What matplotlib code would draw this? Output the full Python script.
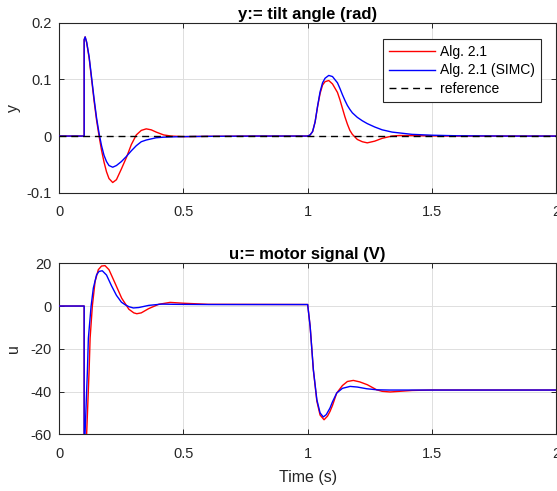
import numpy as np
import matplotlib
matplotlib.use('Agg')
import matplotlib.pyplot as plt

plt.rcParams['font.family'] = ['Liberation Sans', 'DejaVu Sans']
plt.rcParams['axes.unicode_minus'] = False

# ---- tilt angle y (rad) ----
t_y = [0, 0.1, 0.1, 0.104, 0.11, 0.12, 0.13, 0.14, 0.15, 0.16, 0.17, 0.18, 0.19, 0.2,
       0.215, 0.23, 0.25, 0.27, 0.29, 0.31, 0.33, 0.35, 0.37, 0.39, 0.42, 0.45, 0.5,
       0.6, 0.8, 1.0, 1.01, 1.02, 1.03, 1.04, 1.05, 1.06, 1.07, 1.085, 1.1, 1.12,
       1.13, 1.14, 1.15, 1.16, 1.17, 1.18, 1.2, 1.22, 1.24, 1.27, 1.3, 1.34, 1.37,
       1.42, 1.5, 1.6, 1.8, 2.0]
y_alg = [0, 0, 0.17, 0.175, 0.165, 0.138, 0.100, 0.062, 0.028, 0.0, -0.025, -0.046,
         -0.063, -0.075, -0.082, -0.077, -0.058, -0.038, -0.015, 0.002, 0.010, 0.0127,
         0.011, 0.007, 0.002, 0.0, -0.001, -0.0005, 0, 0, 0.002, 0.008, 0.025, 0.052,
         0.075, 0.090, 0.096, 0.098, 0.092, 0.077, 0.064, 0.049, 0.034, 0.021, 0.010,
         0.003, -0.006, -0.010, -0.012, -0.009, -0.004, 0.0, 0.001, 0.0008, 0.0003,
         0, 0, 0]
y_simc = [0, 0, 0.17, 0.175, 0.166, 0.140, 0.103, 0.066, 0.032, 0.005, -0.017, -0.034,
          -0.045, -0.052, -0.055, -0.052, -0.045, -0.036, -0.026, -0.017, -0.010,
          -0.007, -0.005, -0.003, -0.002, -0.0015, -0.001, -0.0005, 0, 0, 0.002,
          0.008, 0.025, 0.053, 0.078, 0.094, 0.102, 0.107, 0.105, 0.094, 0.084,
          0.073, 0.063, 0.054, 0.047, 0.041, 0.033, 0.027, 0.022, 0.016, 0.011,
          0.007, 0.0055, 0.003, 0.0015, 0.0005, 0, 0]
t_ref = [0, 2]
y_ref = [0, 0]

# ---- motor signal u (V) ----
t_u_alg = [0, 0.1, 0.1, 0.11, 0.12, 0.124, 0.133, 0.144, 0.157, 0.17, 0.184, 0.2,
           0.224, 0.251, 0.28, 0.3, 0.312, 0.33, 0.36, 0.4, 0.446, 0.5, 0.6,
           1.0, 1.0, 1.01, 1.023, 1.037, 1.05, 1.066, 1.08, 1.09, 1.1, 1.117, 1.14,
           1.16, 1.184, 1.21, 1.24, 1.278, 1.3, 1.332, 1.37, 1.42, 1.5, 2.0]
u_alg = [0, 0, -75, -60, -30, -15, 0, 11.5, 17, 18.7, 18.9, 17.0, 10.8, 3.7, -1.5,
         -3.2, -3.6, -3.2, -1.2, 0.8, 1.7, 1.3, 0.8, 0.7, 0.7, -9.5, -30,
         -44.5, -51, -53.2, -51.5, -49.3, -46.5, -40.7, -37.2, -35.3, -34.8, -35.5,
         -36.8, -39.2, -39.9, -40.2, -39.9, -39.5, -39.3, -39.3]
t_u_simc = [0, 0.1, 0.1, 0.1035, 0.113, 0.117, 0.128, 0.137, 0.15, 0.16, 0.173, 0.19,
            0.21, 0.23, 0.25, 0.265, 0.28, 0.298, 0.32, 0.36, 0.412, 0.46, 0.6,
            1.0, 1.0, 1.01, 1.023, 1.037, 1.05, 1.063, 1.075, 1.09, 1.1, 1.117, 1.14,
            1.171, 1.2, 1.238, 1.28, 1.33, 1.4, 2.0]
u_simc = [0, 0, -75, -60, -30.6, -15, 0, 8.4, 14.6, 16.2, 16.5, 14.5, 9.5, 5.0, 1.8,
          0.6, -0.3, -0.9, -0.7, 0.3, 0.9, 0.8, 0.7, 0.7, 0.7, -9.5, -29.8, -43.8,
          -50, -51.9, -50.8, -47.7, -44.8, -40.7, -38.5, -37.6, -37.9, -38.7, -39.2,
          -39.3, -39.3, -39.3]

xticks = [0, 0.5, 1, 1.5, 2]
xlabels = ['0', '0.5', '1', '1.5', '2']

fig = plt.figure(figsize=(5.57, 4.91), dpi=100)
ax1 = fig.add_axes([0.1065, 0.6075, 0.8917, 0.3462])
ax2 = fig.add_axes([0.1065, 0.1155, 0.8917, 0.3483])

ax_col = '#262626'
for ax in (ax1, ax2):
    ax.set_xlim(0, 2)
    ax.set_xticks(xticks)
    ax.set_xticklabels(xlabels)
    ax.grid(True, color='#dedede', linewidth=0.7)
    ax.set_axisbelow(True)
    ax.tick_params(direction='in', top=True, right=True, length=3.5, width=0.7,
                   colors=ax_col, labelsize=10.5)
    ax.tick_params(axis='x', pad=9)
    ax.tick_params(axis='y', pad=5.5)
    for s in ax.spines.values():
        s.set_color(ax_col)
        s.set_linewidth(0.8)

# top axes
ax1.plot(t_y, y_alg, color='#ff0000', lw=1.0, label='Alg. 2.1', zorder=3)
ax1.plot(t_y, y_simc, color='#0000ff', lw=1.0, label='Alg. 2.1 (SIMC)', zorder=4)
ax1.plot(t_ref, y_ref, color='k', lw=1.0, ls=(0, (5, 3.5)), label='reference', zorder=5)
ax1.set_ylim(-0.1, 0.2)
ax1.set_yticks([-0.1, 0, 0.1, 0.2])
ax1.set_yticklabels(['-0.1', '0', '0.1', '0.2'])
ax1.set_ylabel('y', fontsize=11.5, color=ax_col)
ax1.yaxis.set_label_coords(-0.077, 0.5)
ax1.set_title('y:= tilt angle (rad)', fontsize=12, fontweight='bold', color='black', pad=3)
leg = ax1.legend(loc='upper right', bbox_to_anchor=(0.97, 0.904), borderaxespad=0,
                 fontsize=10, handlelength=3.3, handletextpad=0.36, labelspacing=0.3,
                 fancybox=False, framealpha=1, edgecolor=ax_col, borderpad=0.45)
leg.get_frame().set_linewidth(0.8)

# bottom axes
ax2.plot(t_u_alg, u_alg, color='#ff0000', lw=1.0, zorder=3)
ax2.plot(t_u_simc, u_simc, color='#0000ff', lw=1.0, zorder=4)
ax2.set_ylim(-60, 20)
ax2.set_yticks([-60, -40, -20, 0, 20])
ax2.set_ylabel('u', fontsize=11.5, color=ax_col)
ax2.yaxis.set_label_coords(-0.077, 0.5)
ax2.set_xlabel('Time (s)', fontsize=11.5, color=ax_col, labelpad=6.5)
ax2.set_title('u:= motor signal (V)', fontsize=12, fontweight='bold', color='black', pad=3)

fig.savefig('out.png', dpi=100)
